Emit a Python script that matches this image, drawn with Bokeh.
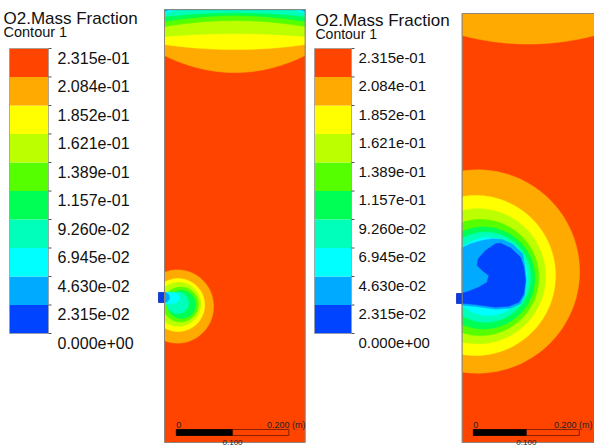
import numpy as np
from bokeh.plotting import figure
from bokeh.layouts import row
from bokeh.models import Range1d
from bokeh.core.properties import value
from bokeh.embed import file_html
from bokeh.resources import INLINE

# ---------------- data ----------------
title_text = "O2.Mass Fraction"
subtitle_text = "Contour 1"
levels = [0.0, 0.02315, 0.0463, 0.06945, 0.0926, 0.1157, 0.1389, 0.1621, 0.1852, 0.2084, 0.2315]
level_labels = ["0.000e+00", "2.315e-02", "4.630e-02", "6.945e-02", "9.260e-02",
                "1.157e-01", "1.389e-01", "1.621e-01", "1.852e-01", "2.084e-01", "2.315e-01"]
band_colors = ["#0044FF", "#00AAFF", "#00FFFF", "#00FFBB", "#00FF55",
               "#55FF00", "#BBFF00", "#FFFF00", "#FFAA00", "#FF4400"]

domain_w_mm = 250.0
domain_h_mm = 780.0

# case 1: bands near the top outlet (depth below top, at centre and at walls, mm)
c1_top_band = [8, 7, 6, 5, 4, 3, 2, 1]
c1_top_depth_center = [113.5, 72.0, 43.2, 19.8, 10.8, 5.4, -15.0, -30.0]
c1_top_depth_edge = [82.9, 63.0, 48.6, 30.6, 21.6, 12.6, 7.2, 4.0]
# case 1: bands around the inlet jet (ellipses, mm)
c1_jet_band = [8, 7, 6, 5, 4, 3, 2, 1]
c1_jet_xc = [23.2, 24.1, 25.0, 28.6, 30.4, 23.2, 8.9, 0.0]
c1_jet_yc = [245.0, 247.7, 249.0, 248.6, 248.6, 251.5, 260.4, 261.3]
c1_jet_rx = [64.0, 47.3, 39.3, 31.6, 25.0, 19.6, 17.9, 8.9]
c1_jet_ry = [66.0, 47.7, 39.6, 31.5, 25.2, 19.3, 10.8, 9.0]
c1_inlet_x = [-10.7, 0.0]
c1_inlet_y = [252.3, 270.3]

# case 2
c2_top_band = [8]
c2_top_depth_center = [55.6]
c2_top_depth_edge = [40.0]
c2_jet_band = [8, 7, 6, 5, 4, 3, 2]
c2_jet_xc = [28.9, 25.1, 29.8, 34.5, 40.2, 44.0, 49.1]
c2_jet_yc = [310.9, 303.6, 302.2, 300.0, 299.1, 300.5, 301.8]
c2_jet_rx = [192.5, 150.9, 127.4, 110.0, 96.8, 84.9, 73.6]
c2_jet_ry = [184.9, 145.5, 122.7, 105.5, 92.7, 81.8, 70.9]
c2_lightblue_x = [0, 15.7, 37.7, 56.5, 75.4, 94.3, 114.2, 118.2, 120.7, 117.5, 110.0, 91.1, 62.8, 25.1, 0]
c2_lightblue_y = [353.9, 361.2, 367.3, 370.3, 369.1, 361.2, 343.0, 318.8, 294.5, 267.3,
                  252.1, 244.2, 242.4, 247.3, 249.7]
c2_blue_x = [0, 12.5, 31.4, 47.1, 50.2, 37.6, 28.2, 30.1, 44.0, 62.8, 72.3, 91.1, 110.0,
             116.3, 119.4, 116.3, 106.9, 88.0, 62.8, 25.1, 0]
c2_blue_y = [271.5, 275.1, 282.4, 291.5, 303.6, 312.7, 321.8, 333.9, 349.1, 361.2, 362.4,
             353.9, 337.0, 318.8, 294.5, 270.3, 255.1, 247.9, 246.1, 250.9, 253.3]
c2_inlet_x = [-10.8, 0.0]
c2_inlet_y = [252.7, 270.9]

scale_bar_mm = [0, 100, 200]
scale_labels = ["0", "0.100", "0.200 (m)"]

FONT = "Liberation Sans"
H_PX = 447


def top_poly(dc, de, W, H, n=90):
    u = np.linspace(0, 1, n)
    d = de + (dc - de) * (1 - (2 * u - 1) ** 2)
    d = np.maximum(d, 0)
    xs = [0.0, W] + list(W * u[::-1])
    ys = [H, H] + list(H - d[::-1])
    return xs, ys


def ell_poly(xc, yc, rx, ry, W, n=180):
    t = np.linspace(0, 2 * np.pi, n)
    xs = np.clip(xc + rx * np.cos(t), 0, W)
    ys = yc + ry * np.sin(t)
    return list(xs), list(ys)


def colorbar_fig(width, bar_x0, bar_x1, label_x, title_x, title_mid, sub_mid,
                 title_size, sub_size, label_size, bar_top=48.0, bar_bot=333.0):
    vmax = levels[-1]

    def v(py):
        return vmax * (bar_bot - py) / (bar_bot - bar_top)

    p = figure(width=width, height=H_PX, x_range=Range1d(0, width),
               y_range=Range1d(v(H_PX), v(0)), output_backend="svg",
               toolbar_location=None, min_border=0, x_axis_location=None,
               y_axis_location=None, outline_line_color=None)
    p.xgrid.visible = False
    p.ygrid.visible = False
    p.quad(left=bar_x0, right=bar_x1, bottom=levels[:-1], top=levels[1:],
           fill_color=band_colors, line_color=None)
    p.quad(left=[bar_x0], right=[bar_x1], bottom=[levels[0]], top=[levels[-1]],
           fill_color=None, line_color="#9a9a9a", line_width=0.8)
    p.segment(x0=[bar_x1] * len(levels), x1=[bar_x1 + 3] * len(levels),
              y0=levels, y1=levels, line_color="#555555", line_width=1)
    p.text(x=[label_x] * len(levels), y=levels, text=level_labels,
           text_font=value(FONT), text_font_size=label_size, text_color="#111111",
           text_baseline="middle", text_align="left", y_offset=9)
    p.text(x=[title_x], y=[v(title_mid)], text=[title_text], text_font=value(FONT),
           text_font_size=title_size, text_color="#111111", text_baseline="middle")
    p.text(x=[title_x], y=[v(sub_mid)], text=[subtitle_text], text_font=value(FONT),
           text_font_size=sub_size, text_color="#111111", text_baseline="middle")
    return p


def panel_fig(width, wall_px, sx, sy, bottom_px, top_band, dcs, des,
              jet_band, xcs, ycs, rxs, rys, inlet_x, inlet_y, label_end_px, extra=None):
    W, H = domain_w_mm, domain_h_mm
    x0 = -wall_px / sx
    x1 = x0 + width / sx
    y0 = -(H_PX - bottom_px) / sy
    y1 = y0 + H_PX / sy
    p = figure(width=width, height=H_PX, x_range=Range1d(x0, x1), y_range=Range1d(y0, y1),
               output_backend="svg", toolbar_location=None, min_border=0,
               x_axis_location=None, y_axis_location=None, outline_line_color=None)
    p.xgrid.visible = False
    p.ygrid.visible = False
    xs_all, ys_all, cols = [], [], []
    xs_all.append([0, W, W, 0]); ys_all.append([0, 0, H, H]); cols.append(band_colors[9])
    for b, dc, de in zip(top_band, dcs, des):
        xs, ys = top_poly(dc, de, W, H)
        xs_all.append(xs); ys_all.append(ys); cols.append(band_colors[b])
    for b, xc, yc, rx, ry in zip(jet_band, xcs, ycs, rxs, rys):
        xs, ys = ell_poly(xc, yc, rx, ry, W)
        xs_all.append(xs); ys_all.append(ys); cols.append(band_colors[b])
    if extra:
        for b, xs, ys in extra:
            xs_all.append(xs); ys_all.append(ys); cols.append(band_colors[b])
    p.patches(xs_all, ys_all, fill_color=cols, line_color=cols, line_width=0.5)
    p.quad(left=[inlet_x[0]], right=[inlet_x[1]], bottom=[inlet_y[0]], top=[inlet_y[1]],
           fill_color="#0A3CE6", line_color="#0630B8", line_width=0.8)
    p.quad(left=[0], right=[W], bottom=[0], top=[H], fill_color=None,
           line_color="#8f8578", line_width=1)
    # scale bar
    bx = 21.0
    bar_lo, bar_hi = 7.0 / sy, 13.0 / sy
    p.quad(left=[bx + scale_bar_mm[0]], right=[bx + scale_bar_mm[1]], bottom=[bar_lo], top=[bar_hi],
           fill_color="#000000", line_color="#000000", line_width=0.8)
    p.quad(left=[bx + scale_bar_mm[1]], right=[bx + scale_bar_mm[2]], bottom=[bar_lo], top=[bar_hi],
           fill_color=None, line_color="#6a1500", line_width=0.8)
    p.text(x=[bx + scale_bar_mm[0]], y=[17.5 / sy], text=[scale_labels[0]], text_font=value(FONT),
           text_font_size="9px", text_color="#222222", text_baseline="alphabetic", text_align="left")
    p.text(x=[(label_end_px - wall_px) / sx], y=[17.5 / sy], text=[scale_labels[2]],
           text_font=value(FONT), text_font_size="9px", text_color="#222222",
           text_baseline="alphabetic", text_align="right")
    p.text(x=[bx + scale_bar_mm[1]], y=[0.0], text=[scale_labels[1]], text_font=value(FONT),
           text_font_size="8px", text_color="#222222", text_baseline="alphabetic", text_align="center")
    return p


cb1 = colorbar_fig(156, 9, 48, 57, 3, 17.5, 31.7, "17px", "14.5px", "16px")
pn1 = panel_fig(154, 8, 0.5625, 0.555, 442, c1_top_band, c1_top_depth_center, c1_top_depth_edge,
                c1_jet_band, c1_jet_xc, c1_jet_yc, c1_jet_rx, c1_jet_ry, c1_inlet_x, c1_inlet_y, 149)
cb2 = colorbar_fig(145, 4, 41, 48, 5, 19.7, 33.8, "17px", "14px", "15px")
pn2 = panel_fig(139, 6.7, 0.53, 0.55, 442, c2_top_band, c2_top_depth_center, c2_top_depth_edge,
                c2_jet_band, c2_jet_xc, c2_jet_yc, c2_jet_rx, c2_jet_ry, c2_inlet_x, c2_inlet_y, 137,
                extra=[(1, c2_lightblue_x, c2_lightblue_y), (0, c2_blue_x, c2_blue_y)])

layout = row(cb1, pn1, cb2, pn2, spacing=0)
open("out.html", "w").write(file_html(layout, INLINE))
